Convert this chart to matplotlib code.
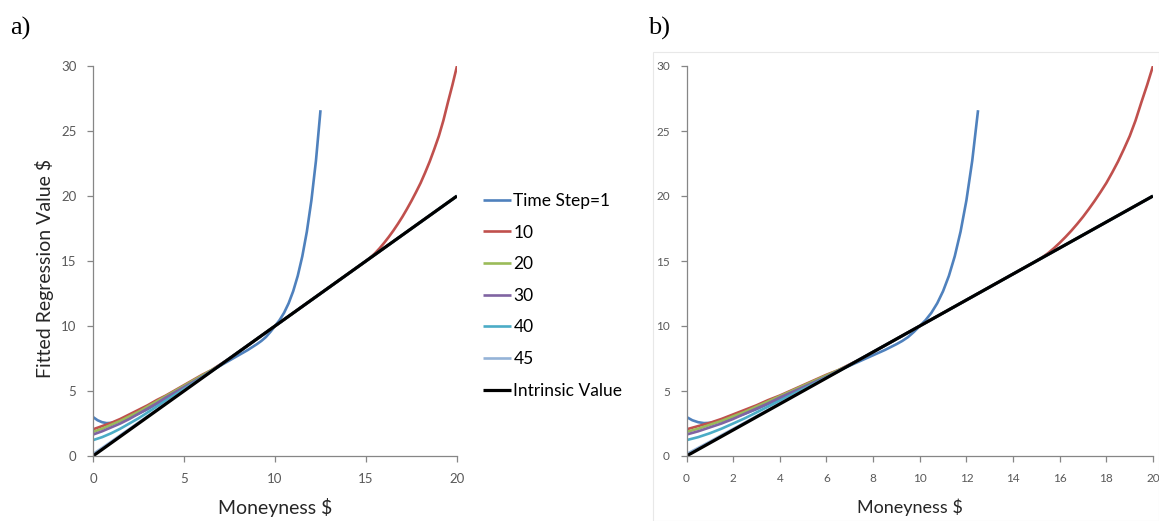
import matplotlib
matplotlib.use("Agg")
import matplotlib.pyplot as plt
from matplotlib.patches import Rectangle

# Common moneyness grid ($) for the series that settle onto the intrinsic value
grid = [0, 0.5, 1, 1.5, 2, 2.5, 3, 3.5, 4, 4.5, 5, 5.5, 6, 6.5, 7, 7.5,
        8, 8.5, 9, 9.5, 10, 10.5, 11, 11.5, 12, 12.5, 13, 13.5, 14, 14.5,
        15, 15.5, 16, 16.5, 17, 17.5, 18, 18.5, 19, 19.5, 20]

# Time step 1
ts1_x = [0, 0.25, 0.5, 0.75, 1, 1.5, 2, 2.5, 3, 3.5, 4, 4.5, 5, 5.5, 6, 6.5,
         7, 7.5, 8, 8.5, 9, 9.25, 9.5, 9.75, 10, 10.25, 10.5, 10.75, 11,
         11.25, 11.5, 11.75, 12, 12.25, 12.5]
ts1_y = [3.0, 2.75, 2.6, 2.53, 2.55, 2.7, 2.95, 3.25, 3.6, 4.0, 4.4, 4.8, 5.25,
         5.7, 6.15, 6.55, 6.95, 7.35, 7.75, 8.15, 8.6, 8.85, 9.15, 9.55, 10.0,
         10.45, 11.02, 11.75, 12.68, 13.86, 15.36, 17.26, 19.66, 22.71, 26.6]

# Time step 10
ts10_x = [0, 0.5, 1, 1.5, 2, 2.5, 3, 3.5, 4, 4.5, 5, 5.5, 6, 6.5, 7, 7.5, 8,
          9, 10, 11, 12, 13, 14, 14.5, 15, 15.25, 15.5, 15.75, 16, 16.25, 16.5,
          16.75, 17, 17.25, 17.5, 17.75, 18, 18.25, 18.5, 18.75, 19, 19.25,
          19.5, 19.75, 20]
ts10_y = [2.05, 2.3, 2.55, 2.85, 3.2, 3.55, 3.9, 4.3, 4.65, 5.05, 5.45, 5.85,
          6.25, 6.6, 7.05, 7.5, 8.0, 9.0, 10.0, 11.0, 12.0, 13.0, 14.0, 14.5,
          15.0, 15.28, 15.6, 15.98, 16.4, 16.85, 17.33, 17.85, 18.4, 19.0,
          19.63, 20.3, 21.0, 21.8, 22.65, 23.6, 24.6, 25.8, 27.2, 28.55, 30.0]

# Time steps 20, 30, 40, 45 (on the common grid)
ts20 = [1.85, 2.1, 2.4, 2.7, 3.05, 3.4, 3.8, 4.2, 4.6, 5.0, 5.4, 5.8, 6.2, 6.6,
        7.0, 7.5, 8.0, 8.5, 9.0, 9.5, 10.0, 10.5, 11.0, 11.5, 12.0, 12.5, 13.0,
        13.5, 14.0, 14.5, 15.0, 15.5, 16.0, 16.5, 17.0, 17.5, 18.0, 18.5, 19.0,
        19.5, 20.0]
ts30 = [1.65, 1.9, 2.2, 2.5, 2.85, 3.25, 3.65, 4.05, 4.5, 4.9, 5.3, 5.7, 6.1,
        6.55, 7.0, 7.5, 8.0, 8.5, 9.0, 9.5, 10.0, 10.5, 11.0, 11.5, 12.0, 12.5,
        13.0, 13.5, 14.0, 14.5, 15.0, 15.5, 16.0, 16.5, 17.0, 17.5, 18.0, 18.5,
        19.0, 19.5, 20.0]
ts40 = [1.22, 1.45, 1.75, 2.1, 2.5, 2.9, 3.35, 3.8, 4.25, 4.7, 5.15, 5.6, 6.05,
        6.5, 7.0, 7.5, 8.0, 8.5, 9.0, 9.5, 10.0, 10.5, 11.0, 11.5, 12.0, 12.5,
        13.0, 13.5, 14.0, 14.5, 15.0, 15.5, 16.0, 16.5, 17.0, 17.5, 18.0, 18.5,
        19.0, 19.5, 20.0]
ts45 = [0.15, 0.62, 1.1, 1.6, 2.08, 2.57, 3.06, 3.55, 4.05, 4.54, 5.04, 5.53,
        6.03, 6.52, 7.02, 7.51, 8.01, 8.51, 9.0, 9.5, 10.0, 10.5, 11.0, 11.5,
        12.0, 12.5, 13.0, 13.5, 14.0, 14.5, 15.0, 15.5, 16.0, 16.5, 17.0, 17.5,
        18.0, 18.5, 19.0, 19.5, 20.0]

# Intrinsic value of the option
intrinsic_x = [0, 20]
intrinsic_y = [0, 20]

labels = ["Time Step=1", "10", "20", "30", "40", "45", "Intrinsic Value"]
series = [(ts1_x, ts1_y), (ts10_x, ts10_y), (grid, ts20), (grid, ts30),
          (grid, ts40), (grid, ts45), (intrinsic_x, intrinsic_y)]
colors = ["#4F81BD", "#C0504D", "#9BBB59", "#8064A2", "#4BACC6", "#95B3D7", "#000000"]

W, H = 1159, 521
fig = plt.figure(figsize=(W / 100, H / 100), dpi=100)

def frac(x0, y0, x1, y1):
    return [x0 / W, 1 - y1 / H, (x1 - x0) / W, (y1 - y0) / H]

ax_a = fig.add_axes(frac(93, 66, 457, 456))
ax_b = fig.add_axes(frac(686.5, 66, 1153, 456))

axis_grey = "#868686"
tick_grey = "#595959"
font = "Lato"

def draw(ax, xticks, tick_size, label_size):
    handles = []
    for (xs, ys), lab, col in zip(series, labels, colors):
        lw = 2.3 if col == "#000000" else 1.9
        h, = ax.plot(xs, ys, color=col, lw=lw, label=lab,
                     solid_capstyle="butt", solid_joinstyle="round")
        handles.append(h)
    ax.set_xlim(0, 20)
    ax.set_ylim(0, 30)
    ax.set_xticks(xticks)
    ax.set_yticks([0, 5, 10, 15, 20, 25, 30])
    for s in ["top", "right"]:
        ax.spines[s].set_visible(False)
    for s in ["left", "bottom"]:
        ax.spines[s].set_color(axis_grey)
        ax.spines[s].set_linewidth(0.9)
    ax.tick_params(direction="out", length=4, width=0.9, color=axis_grey,
                   labelcolor=tick_grey, labelsize=tick_size, pad=8)
    for t in ax.get_xticklabels() + ax.get_yticklabels():
        t.set_fontfamily(font)
    ax.set_xlabel("Moneyness $", fontsize=label_size, family=font, color="#262626")
    return handles

handles = draw(ax_a, [0, 5, 10, 15, 20], 9.5, 14)
draw(ax_b, [0, 2, 4, 6, 8, 10, 12, 14, 16, 18, 20], 8.5, 13)

ax_a.set_ylabel("Fitted Regression Value $", fontsize=14, family=font, color="#262626")
ax_a.yaxis.set_label_coords(-0.107, 0.48)
ax_a.xaxis.set_label_coords(0.5, -0.108)
ax_b.xaxis.set_label_coords(0.479, -0.108)

fig.legend(handles=handles, labels=labels, loc="upper left",
           bbox_to_anchor=(476 / W, 1 - 186 / H), frameon=False,
           prop={"family": font, "size": 12.5}, handlelength=1.6,
           handletextpad=0.15, labelspacing=0.9, borderaxespad=0)

# light frame around panel b
fig.patches.append(Rectangle((653 / W, 0), 1 - 653 / W, 1 - 52 / H,
                             transform=fig.transFigure, fill=False,
                             edgecolor="#e8e8e8", lw=0.8))

fig.text(10 / W, 1 - 28 / H, "a)", family="Liberation Serif", fontsize=19,
         va="center", ha="left")
fig.text(648 / W, 1 - 28 / H, "b)", family="Liberation Serif", fontsize=19,
         va="center", ha="left")

fig.savefig("out.png", dpi=100)
